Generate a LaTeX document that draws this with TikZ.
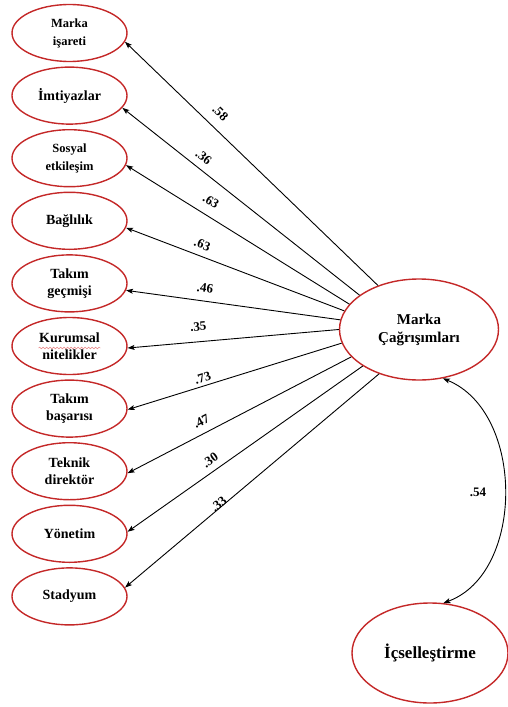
\documentclass[tikz,border=0pt]{standalone}
\usepackage{fontspec}
\setmainfont{Liberation Serif}
\usetikzlibrary{shapes.geometric,arrows.meta,decorations.pathmorphing}
\definecolor{ovalred}{RGB}{196,40,40}
\definecolor{spellred}{RGB}{232,130,130}
\begin{document}
\begin{tikzpicture}[x=1pt,y=-1pt,
  oval/.style={ellipse, draw=ovalred, line width=1.4pt, inner sep=0pt, align=center, text=black},
  leaf/.style={oval, minimum width=115pt, minimum height=57pt, font=\fontsize{14}{17}\selectfont\bfseries},
  leafsmall/.style={leaf, font=\fontsize{12.5}{18}\selectfont\bfseries},
  factor/.style={oval, minimum width=159pt, minimum height=101pt, font=\fontsize{15}{18}\selectfont\bfseries},
  outcome/.style={oval, minimum width=156pt, minimum height=100pt, font=\fontsize{17}{20}\selectfont\bfseries},
  tip/.tip={Stealth[length=7pt,width=5pt,inset=1.5pt]},
  arr/.style={draw=black, line width=0.9pt, -tip},
  twoway/.style={draw=black, line width=0.9pt, tip-tip},
  lbl/.style={font=\fontsize{13}{15}\selectfont\bfseries, inner sep=0pt, sloped},
  corrlbl/.style={font=\fontsize{13}{15}\selectfont\bfseries, inner sep=0pt},
  squiggle/.style={draw=spellred, line width=0.45pt, decorate,
    decoration={snake, amplitude=0.9pt, segment length=3.5pt}}
]
\useasboundingbox (0,0) rectangle (508,707);

% indicator ovals
\node[leafsmall] (n1)  at (69.5,33.0)  {Marka\\işareti};
\node[leaf]      (n2)  at (69.5,95.6)  {İmtiyazlar};
\node[leafsmall] (n3)  at (69.5,158.2) {Sosyal\\etkileşim};
\node[leaf]      (n4)  at (69.5,220.8) {Bağlılık};
\node[leaf]      (n5)  at (69.5,283.4) {Takım\\geçmişi};
\node[leaf]      (n6)  at (69.5,346.0) {Kurumsal\\nitelikler};
\node[leaf]      (n7)  at (69.5,408.6) {Takım\\başarısı};
\node[leaf]      (n8)  at (69.5,471.2) {Teknik\\direktör};
\node[leaf]      (n9)  at (69.5,533.8) {Yönetim};
\node[leaf]      (n10) at (69.5,596.4) {Stadyum};

% latent factors
\node[factor]  (mc) at (419,329.5) {Marka\\Çağrışımları};
\node[outcome] (ic) at (430,653)   {İçselleştirme};

% spell-check underline below "Kurumsal"
\draw[squiggle] ([xshift=-31pt,yshift=-2pt]n6.center) -- ([xshift=31pt,yshift=-2pt]n6.center);

% loadings
\draw[arr] (mc.133.7) -- (n1.-9)  node[lbl, pos=.664, above=10pt]  {.58};
\draw[arr] (mc.150.5) -- (n2.-13) node[lbl, pos=.688, above=7pt]   {.36};
\draw[arr] (mc.160.1) -- (n3.-7)  node[lbl, pos=.654, above=9.5pt] {.63};
\draw[arr] (mc.166.9) -- (n4.-7)  node[lbl, pos=.669, above=6.5pt] {.63};
\draw[arr] (mc.173.1) -- (n5.-7)  node[lbl, pos=.639, above=8pt]   {.46};
\draw[arr] (mc.180.4) -- (n6.-2)  node[lbl, pos=.659, above=10.5pt]{.35};
\draw[arr] (mc.190.1) -- (n7.-1)  node[lbl, pos=.638, above=3.3pt] {.73};
\draw[arr] (mc.202.2) -- (n8.-2)  node[lbl, pos=.645, above=7.3pt] {.47};
\draw[arr] (mc.213)   -- (n9.2)   node[lbl, pos=.622, above=6pt]   {.30};
\draw[arr] (mc.228.1) -- (n10.9)  node[lbl, pos=.622, above=-1pt]  {.33};

% correlation between the factors
\draw[twoway] (mc.-64) .. controls (525,412) and (525,573) .. (ic.75)
  node[corrlbl, pos=.5, left=18pt] {.54};
\end{tikzpicture}
\end{document}
